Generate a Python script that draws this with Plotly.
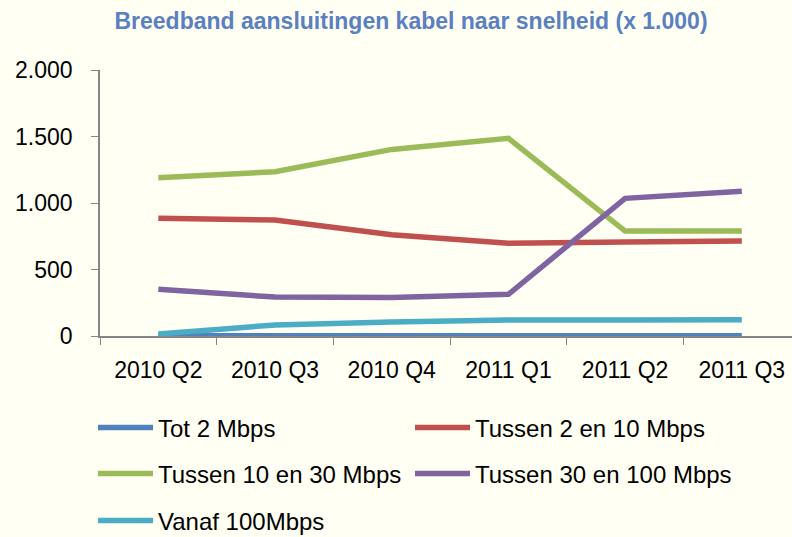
import plotly.graph_objects as go

categories = ["2010 Q2", "2010 Q3", "2010 Q4", "2011 Q1", "2011 Q2", "2011 Q3"]
tot_2 = [2, 2, 2, 2, 2, 2]
tussen_2_10 = [885, 872, 762, 697, 707, 714]
tussen_10_30 = [1190, 1235, 1403, 1486, 789, 790]
tussen_30_100 = [351, 293, 290, 313, 1035, 1088]
vanaf_100 = [15, 83, 105, 120, 121, 123]

series_names = ["Tot 2 Mbps", "Tussen 2 en 10 Mbps", "Tussen 10 en 30 Mbps",
                "Tussen 30 en 100 Mbps", "Vanaf 100Mbps"]
series_values = [tot_2, tussen_2_10, tussen_10_30, tussen_30_100, vanaf_100]
series_colors = ["#4F81BD", "#C0504D", "#9BBB59", "#8064A2", "#4BACC6"]

# legend slots: (x px, y px) of each entry
legend_pos = [(93, 428), (410, 428), (93, 474), (410, 474), (93, 521)]
legend_ids = ["legend", "legend2", "legend3", "legend4", "legend5"]

fig = go.Figure()
for name, vals, color, lg in zip(series_names, series_values, series_colors, legend_ids):
    fig.add_trace(go.Scatter(
        x=categories, y=vals, name=name, mode="lines",
        line=dict(color=color, width=5.5),
        legend=lg, showlegend=True,
    ))

bg = "#FFFFF3"
font_family = "Liberation Sans"
legend_common = dict(
    orientation="v", xref="container", yref="container",
    xanchor="left", yanchor="middle",
    font=dict(family=font_family, size=24, color="#000000"),
    bgcolor="rgba(0,0,0,0)", itemwidth=55, visible=True,
)

legends = {}
for lg, (px, py) in zip(legend_ids, legend_pos):
    legends[lg] = dict(legend_common, x=px / 792, y=1 - py / 537)

fig.update_layout(
    width=792, height=537, showlegend=True,
    paper_bgcolor=bg, plot_bgcolor=bg,
    margin=dict(l=100, r=0, t=70, b=201, autoexpand=False),
    title=dict(
        text="<b>Breedband aansluitingen kabel naar snelheid (x 1.000)</b>",
        x=411 / 792, xanchor="center", y=1 - 21 / 537, yanchor="middle",
        font=dict(family=font_family, size=23, color="#5B80C0"),
    ),
    xaxis=dict(
        type="category", range=[-0.5, 5.43],
        showline=True, linecolor="#868686", linewidth=1.5,
        ticks="outside", tickson="boundaries", ticklen=7, tickcolor="#868686",
        tickfont=dict(family=font_family, size=23, color="#000000"),
        ticklabelstandoff=13,
        showgrid=False, zeroline=False,
    ),
    yaxis=dict(
        range=[0, 2000], tickvals=[0, 500, 1000, 1500, 2000],
        ticktext=["0", "500", "1.000", "1.500", "2.000"],
        showline=True, linecolor="#868686", linewidth=1.5,
        ticks="outside", ticklen=7, tickcolor="#868686",
        tickfont=dict(family=font_family, size=23, color="#000000"),
        ticklabelstandoff=14,
        showgrid=False, zeroline=False,
    ),
    **legends,
)

fig.write_html("out.html", config={"displayModeBar": False},
               post_script="document.body.style.margin='0';")
